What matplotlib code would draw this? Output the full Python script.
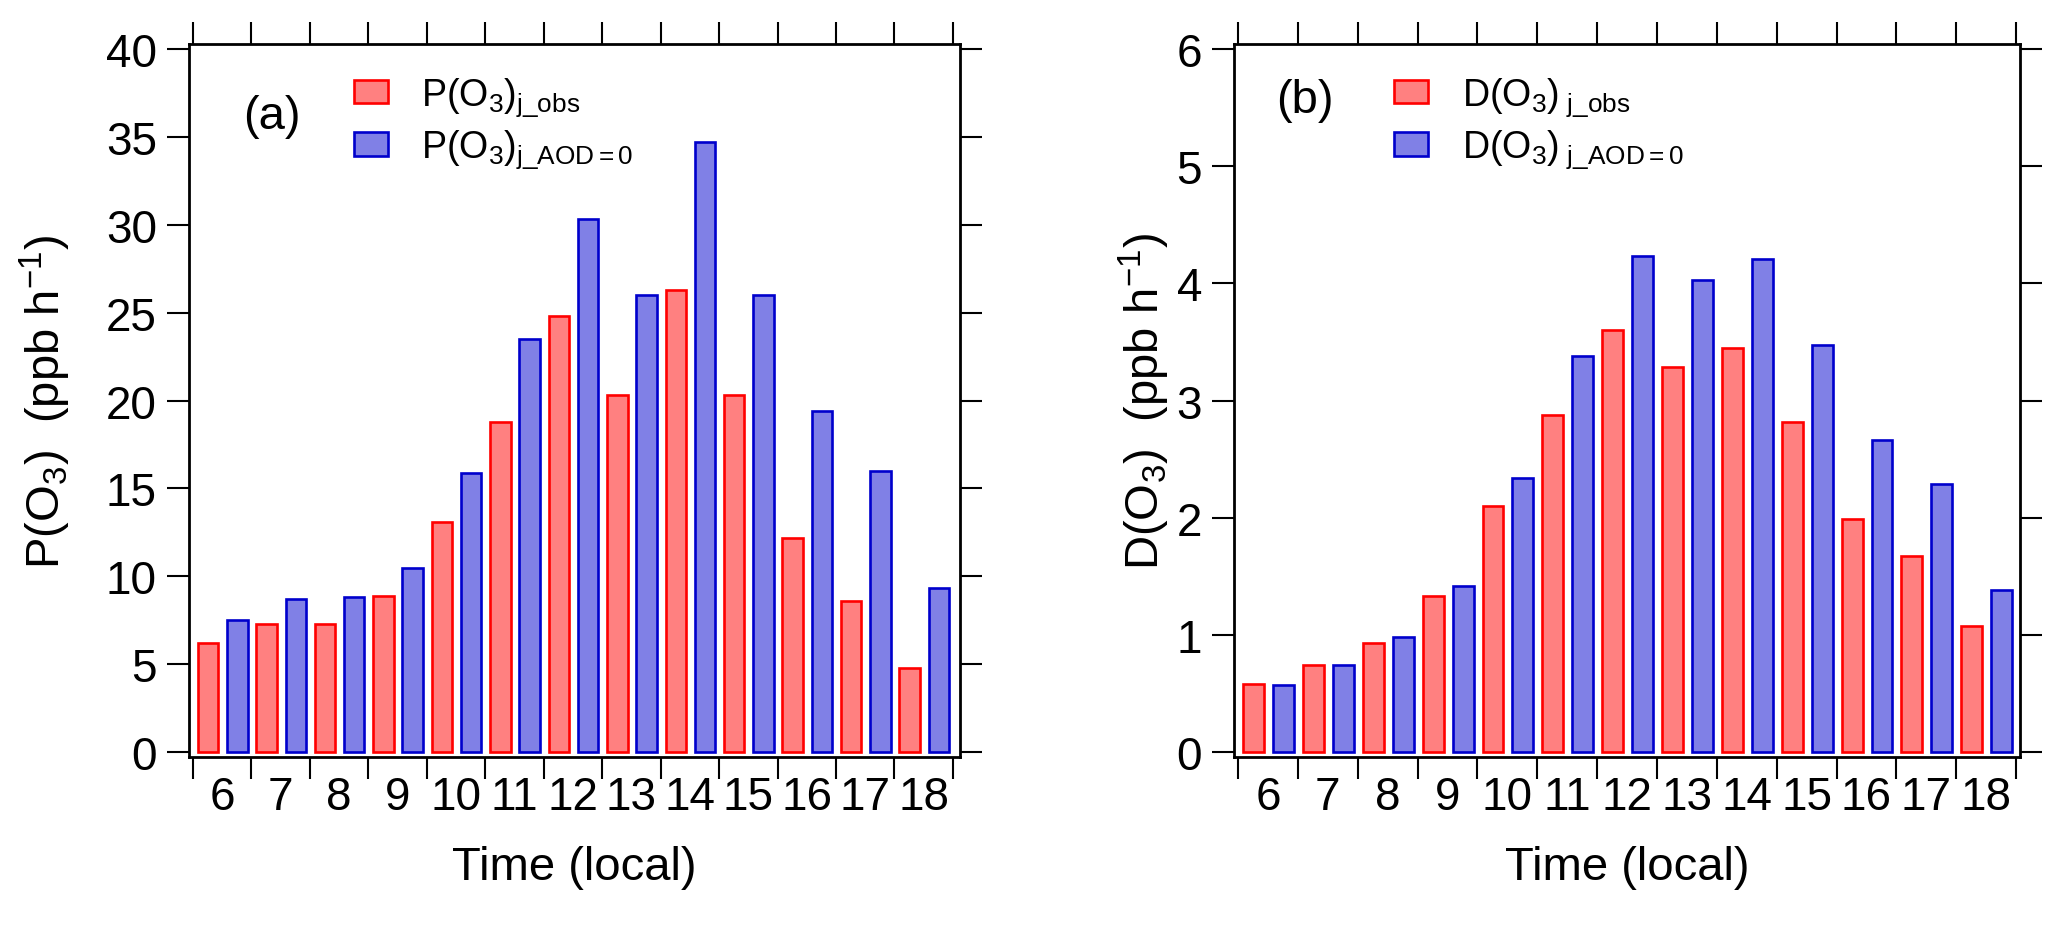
import matplotlib
matplotlib.use("Agg")
import matplotlib.pyplot as plt
import numpy as np

plt.rcParams["font.family"] = ["Liberation Sans", "DejaVu Sans"]
plt.rcParams["mathtext.fontset"] = "custom"
plt.rcParams["mathtext.rm"] = "Liberation Sans"
plt.rcParams["mathtext.it"] = "Liberation Sans"
plt.rcParams["mathtext.bf"] = "Liberation Sans:bold"

hours = [6, 7, 8, 9, 10, 11, 12, 13, 14, 15, 16, 17, 18]

p_obs = [6.2, 7.3, 7.3, 8.9, 13.1, 18.8, 24.8, 20.3, 26.3, 20.3, 12.2, 8.6, 4.8]
p_aod0 = [7.5, 8.7, 8.8, 10.5, 15.9, 23.5, 30.3, 26.0, 34.7, 26.0, 19.4, 16.0, 9.35]

d_obs = [0.58, 0.74, 0.93, 1.33, 2.10, 2.88, 3.60, 3.29, 3.45, 2.82, 1.99, 1.67, 1.08]
d_aod0 = [0.57, 0.74, 0.98, 1.42, 2.34, 3.38, 4.23, 4.03, 4.21, 3.47, 2.66, 2.29, 1.38]

RED_FILL, RED_EDGE = "#ff8080", "#ff0000"
BLUE_FILL, BLUE_EDGE = "#8080e6", "#0000cc"


def draw_panel(ax, obs, aod0, labels, ylabel, ymax, ystep, tag, xlim_right,
               leg_x, tag_xy, ylabelpad):
    x = np.arange(len(hours))
    width = 0.35
    b1 = ax.bar(x + 0.26, obs, width, color=RED_FILL, edgecolor=RED_EDGE, linewidth=1.9)
    b2 = ax.bar(x + 0.76, aod0, width, color=BLUE_FILL, edgecolor=BLUE_EDGE, linewidth=1.9)

    pad = ymax * 0.007
    ax.set_ylim(-pad, ymax + pad)
    ax.set_xlim(-0.068, xlim_right)
    ax.set_yticks(np.arange(0, ymax + 0.01, ystep))

    # ticks at hour boundaries, labels centred on each hour
    ax.set_xticks(np.arange(0, len(hours) + 1))
    ax.set_xticklabels([])
    ax.set_xticks(x + 0.5, minor=True)
    ax.set_xticklabels([str(h) for h in hours], minor=True)

    ax.tick_params(axis="both", which="major", direction="out", length=16, width=1.5,
                   top=True, right=True, labelsize=33, pad=7)
    ax.tick_params(axis="x", which="minor", length=0, labelsize=33, pad=13)
    for s in ax.spines.values():
        s.set_linewidth(2)

    ax.set_ylabel(ylabel, fontsize=34, labelpad=ylabelpad)
    ax.set_xlabel("Time (local)", fontsize=34, labelpad=19)

    ax.text(tag_xy[0], tag_xy[1], tag, transform=ax.transAxes, fontsize=34,
            ha="left", va="center")
    ax.legend([b1, b2], labels, loc="upper left", bbox_to_anchor=(leg_x, 0.956),
              frameon=False, fontsize=27, handlelength=0.9, handleheight=0.6,
              handletextpad=0.9, labelspacing=0.25, borderpad=0, borderaxespad=0)


fig = plt.figure(figsize=(20.67, 9.37), dpi=100)
ax_a = fig.add_axes([0.0914, 0.191, 0.373, 0.761])
ax_b = fig.add_axes([0.597, 0.191, 0.3803, 0.761])

draw_panel(ax_a, p_obs, p_aod0,
           [r"P(O$_3$)$_{\mathrm{j\_obs}}$", r"P(O$_3$)$_{\mathrm{j\_AOD=0}}$"],
           r"P(O$_3$)  (ppb h$^{-1}$)", 40, 5, "(a)", 13.12, 0.214, (0.07, 0.899), 24)
draw_panel(ax_b, d_obs, d_aod0,
           [r"D(O$_3$)$_{\mathrm{\ j\_obs}}$", r"D(O$_3$)$_{\mathrm{\ j\_AOD=0}}$"],
           r"D(O$_3$)  (ppb h$^{-1}$)", 6, 1, "(b)", 13.067, 0.204, (0.053, 0.921), 3)

fig.savefig("out.png", dpi=100)
